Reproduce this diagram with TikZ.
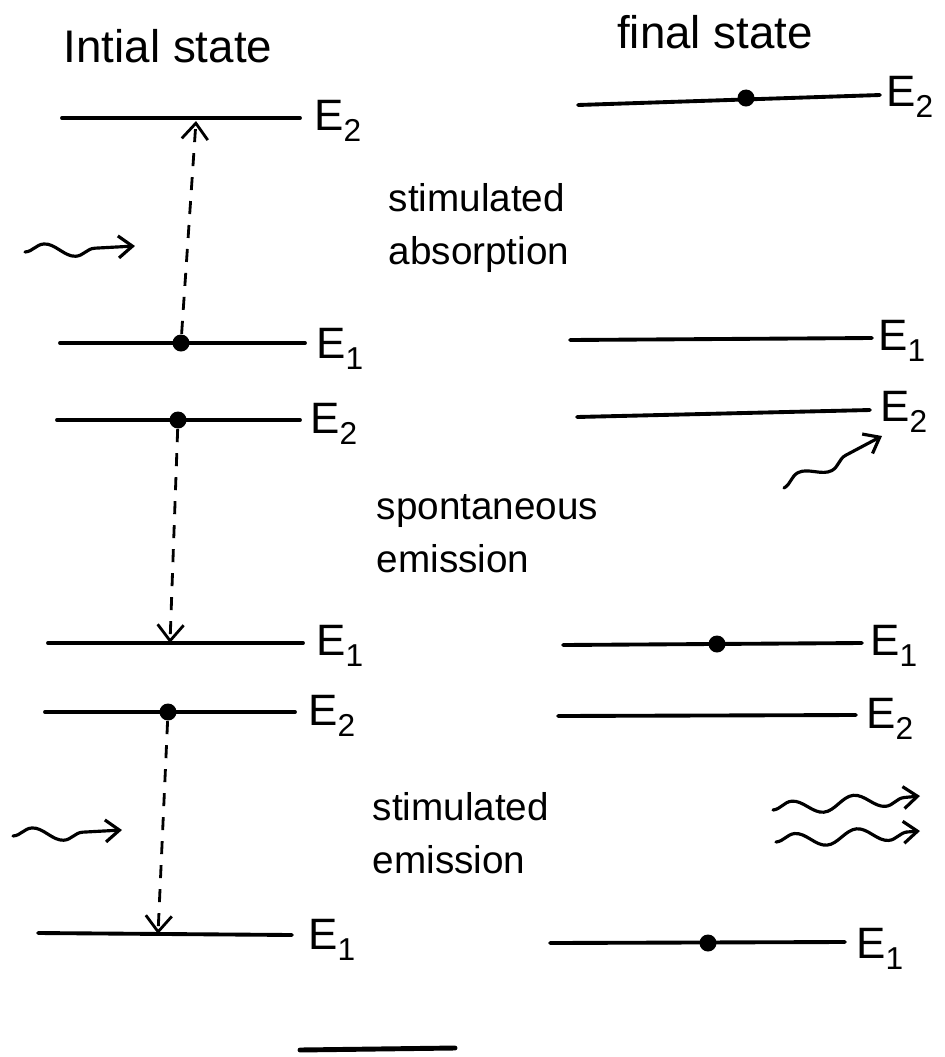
\documentclass[tikz,border=0pt]{standalone}
\usepackage{fontspec}
\setmainfont{Liberation Sans}
\usetikzlibrary{arrows.meta,decorations.pathmorphing}
\newcommand\lvlE[1]{E\raisebox{-0.45ex}{\small #1}}
\tikzset{
  level/.style={line width=1.1pt, line cap=round},
  dotnode/.style={circle, fill=black, inner sep=0pt, minimum size=0.17cm},
  elabel/.style={anchor=west, font=\fontsize{12.5}{14}\selectfont, inner sep=1pt},
  caption/.style={font=\fontsize{11}{15}\selectfont, align=left, inner sep=0pt},
  heading/.style={font=\fontsize{13}{16}\selectfont},
  jump/.style={dashed, dash pattern=on 0.13cm off 0.11cm, line width=0.8pt, -{Straight Barb[length=0.16cm, width=0.26cm]}},
  photon/.style={line width=0.9pt, line cap=round, -{Straight Barb[length=0.14cm, width=0.22cm]},
    decorate, decoration={snake, amplitude=0.07cm, segment length=0.62cm, post length=0.12cm}},
}
\begin{document}
\begin{tikzpicture}[x=0.01cm, y=-0.01cm]
\useasboundingbox (0,0) rectangle (945,1057);

% headings
\node[heading] (hin) at (168,46) {Intial state};
\node[heading] (hfin) at (715,32) {final state};

% ---------- stimulated absorption ----------
\coordinate (a2l) at (62,118);  \coordinate (a2r) at (300,118);
\coordinate (a1l) at (60,343);  \coordinate (a1r) at (305,343);
\draw[level] (a2l) -- (a2r);
\draw[level] (a1l) -- (a1r);
\node[elabel] (la2) at (310,121) {\lvlE{2}};
\node[elabel] (la1) at (312,349) {\lvlE{1}};
\node[dotnode] (da) at (181,343) {};
\coordinate (atop) at (196,121);
\draw[jump] (da) -- (atop);
\coordinate (pa0) at (25,252); \coordinate (pa1) at (135,246);
\draw[photon] (pa0) -- (pa1);

\coordinate (fa2l) at (578,105); \coordinate (fa2r) at (880,95);
\coordinate (fa1l) at (570,340); \coordinate (fa1r) at (872,338);
\draw[level] (fa2l) -- (fa2r);
\draw[level] (fa1l) -- (fa1r);
\node[dotnode] (fda) at (746,98) {};
\node[elabel] (lfa2) at (882,97) {\lvlE{2}};
\node[elabel] (lfa1) at (874,341) {\lvlE{1}};

\node[caption, anchor=north west] (capa) at (388,183) {stimulated\\absorption};

% ---------- spontaneous emission ----------
\coordinate (s2l) at (57,420);  \coordinate (s2r) at (300,420);
\coordinate (s1l) at (48,643);  \coordinate (s1r) at (303,643);
\draw[level] (s2l) -- (s2r);
\draw[level] (s1l) -- (s1r);
\node[elabel] (ls2) at (306,424) {\lvlE{2}};
\node[elabel] (ls1) at (312,646) {\lvlE{1}};
\node[dotnode] (ds) at (178,420) {};
\coordinate (sbot) at (170,643);
\draw[jump] (ds) -- (sbot);

\coordinate (fs2l) at (577,417); \coordinate (fs2r) at (870,410);
\coordinate (fs1l) at (563,645); \coordinate (fs1r) at (862,643);
\draw[level] (fs2l) -- (fs2r);
\draw[level] (fs1l) -- (fs1r);
\node[elabel] (lfs2) at (876,412) {\lvlE{2}};
\node[elabel] (lfs1) at (866,646) {\lvlE{1}};
\node[dotnode] (fds) at (717,644) {};
\coordinate (ps0) at (784,488); \coordinate (ps1) at (882,436);
\draw[photon] (ps0) -- (ps1);

\node[caption, anchor=north west] (caps) at (376,494) {spontaneous\\emission};

% ---------- stimulated emission ----------
\coordinate (e2l) at (45,712);  \coordinate (e2r) at (295,712);
\coordinate (e1l) at (38,933);  \coordinate (e1r) at (292,935);
\draw[level] (e2l) -- (e2r);
\draw[level] (e1l) -- (e1r);
\node[elabel] (le2) at (304,716) {\lvlE{2}};
\node[elabel] (le1) at (304,940) {\lvlE{1}};
\node[dotnode] (de) at (168,712) {};
\coordinate (ebot) at (158,934);
\draw[jump] (de) -- (ebot);
\coordinate (pe0) at (13,836); \coordinate (pe1) at (122,830);
\draw[photon] (pe0) -- (pe1);

\coordinate (fe2l) at (558,716); \coordinate (fe2r) at (856,715);
\coordinate (fe1l) at (550,943); \coordinate (fe1r) at (845,942);
\draw[level] (fe2l) -- (fe2r);
\draw[level] (fe1l) -- (fe1r);
\node[elabel] (lfe2) at (862,719) {\lvlE{2}};
\node[elabel] (lfe1) at (852,949) {\lvlE{1}};
\node[dotnode] (fde) at (708,943) {};
\coordinate (pf0) at (773,810); \coordinate (pf1) at (920,796);
\coordinate (pg0) at (776,842); \coordinate (pg1) at (920,831);
\draw[photon] (pf0) -- (pf1);
\draw[photon] (pg0) -- (pg1);

\node[caption, anchor=north west] (cape) at (372,792) {stimulated\\emission};

% closing rule
\coordinate (u0) at (300,1050); \coordinate (u1) at (455,1048);
\draw[level, line width=1.4pt] (u0) -- (u1);
\end{tikzpicture}
\end{document}
